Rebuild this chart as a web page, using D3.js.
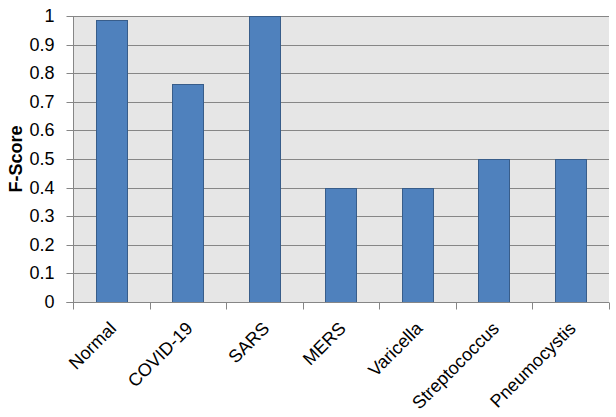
<!DOCTYPE html>
<html>
<head>
<meta charset="utf-8">
<script src="https://cdn.jsdelivr.net/npm/d3@7"></script>
<style>
body { margin: 0; background: #fff; }
text { font-family: "Liberation Sans", Arial, sans-serif; fill: #000; }
</style>
</head>
<body>
<div id="chart"></div>
<script>
var categories = ["Normal", "COVID-19", "SARS", "MERS", "Varicella", "Streptococcus", "Pneumocystis"];
var fScores = [0.986, 0.762, 1.0, 0.4, 0.4, 0.5, 0.5];
var yTicks = [0, 0.1, 0.2, 0.3, 0.4, 0.5, 0.6, 0.7, 0.8, 0.9, 1];

var margin = { left: 73, right: 7, top: 16, bottom: 115 };
var fullWidth = 616, fullHeight = 417;
var width = fullWidth - margin.left - margin.right;
var height = fullHeight - margin.top - margin.bottom;

var barColor = "#4F81BD";
var barStroke = "#385D8A";
var gridColor = "#868686";

var svg = d3.select("#chart").append("svg")
    .attr("width", fullWidth)
    .attr("height", fullHeight);

var chartGroup = svg.append("g")
    .attr("transform", "translate(" + margin.left + "," + margin.top + ")");

var x = d3.scaleBand()
    .domain(categories)
    .range([0, width])
    .padding(0);

var y = d3.scaleLinear()
    .domain([0, 1])
    .range([height, 0]);

// plot background
chartGroup.append("rect")
    .attr("width", width)
    .attr("height", height)
    .attr("fill", "#E6E6E6");

// horizontal gridlines
chartGroup.selectAll(".grid")
    .data(yTicks.filter(d => d > 0))
    .enter().append("line")
    .attr("x1", 0)
    .attr("x2", width)
    .attr("y1", d => Math.round(y(d)) + 0.5)
    .attr("y2", d => Math.round(y(d)) + 0.5)
    .attr("stroke", gridColor)
    .attr("stroke-width", 1);

// bars
var barW = x.bandwidth() * 0.41;
chartGroup.selectAll(".bar")
    .data(categories)
    .enter().append("rect")
    .attr("class", "bar")
    .attr("x", d => Math.round(x(d) + (x.bandwidth() - barW) / 2) + 0.5)
    .attr("y", (d, i) => Math.round(y(fScores[i])) + 0.5)
    .attr("width", Math.round(barW))
    .attr("height", (d, i) => height - Math.round(y(fScores[i])))
    .attr("fill", barColor)
    .attr("stroke", barStroke)
    .attr("stroke-width", 1);

// y axis
var yAxis = d3.axisLeft(y)
    .tickValues(yTicks)
    .tickSize(7)
    .tickPadding(12)
    .tickFormat(d3.format("~g"));

var yG = chartGroup.append("g")
    .attr("transform", "translate(0.5,0)")
    .call(yAxis);
yG.select(".domain").attr("stroke", gridColor).attr("d", "M-7," + (height + 0.5) + "H0V" + 0);
yG.selectAll(".tick line").attr("stroke", gridColor);
yG.selectAll(".tick").attr("transform", d => "translate(0," + (Math.round(y(d)) + 0.5) + ")");
yG.selectAll(".tick text")
    .style("font-size", "18px")
    .style("font-family", "'Liberation Sans', Arial, sans-serif")
    .attr("fill", "#000");

// x axis
var xG = chartGroup.append("g")
    .attr("transform", "translate(0," + (height + 0.5) + ")");
xG.append("line")
    .attr("x1", 0).attr("x2", width)
    .attr("stroke", gridColor);
xG.selectAll(".xtick")
    .data(d3.range(categories.length + 1))
    .enter().append("line")
    .attr("x1", i => Math.round(i * x.step()) + 0.5)
    .attr("x2", i => Math.round(i * x.step()) + 0.5)
    .attr("y1", 0).attr("y2", 7)
    .attr("stroke", gridColor);
xG.selectAll(".xlabel")
    .data(categories)
    .enter().append("text")
    .attr("text-anchor", "end")
    .attr("dy", "0.71em")
    .style("font-size", "18px")
    .attr("transform", d => "translate(" + (x(d) + x.bandwidth() / 2 - 3) + ",18) rotate(-45)")
    .text(d => d);

// y axis title
svg.append("text")
    .attr("transform", "translate(22," + (margin.top + height / 2) + ") rotate(-90)")
    .attr("text-anchor", "middle")
    .style("font-size", "18px")
    .style("font-weight", "bold")
    .text("F-Score");
</script>
</body>
</html>
